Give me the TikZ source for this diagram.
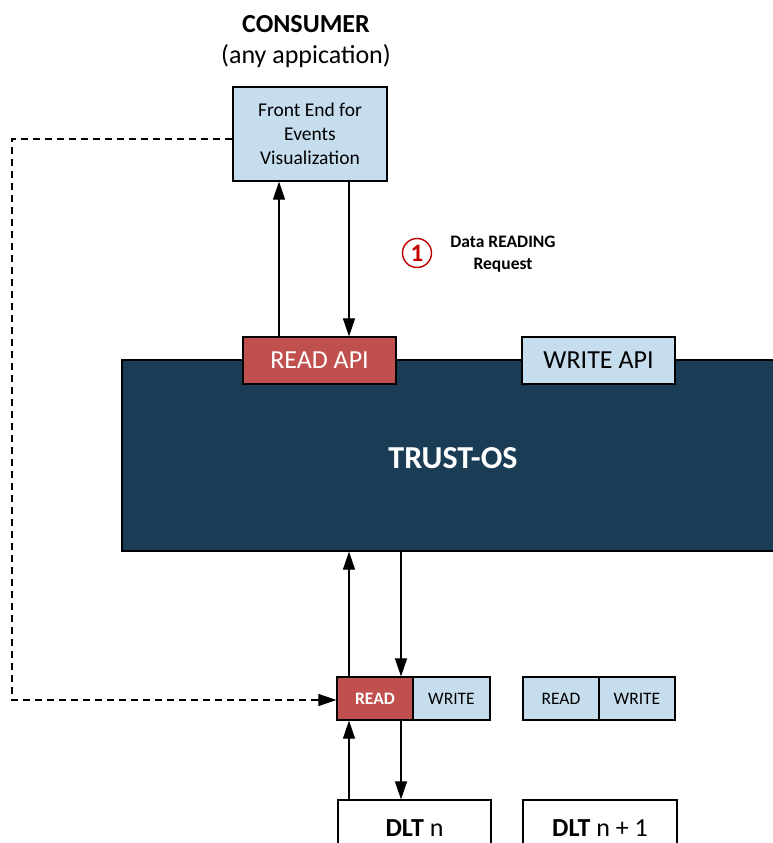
\documentclass[tikz,border=0pt]{standalone}
\usepackage{fontspec}
\setmainfont{Carlito}
\usetikzlibrary{arrows.meta}
\definecolor{lblue}{HTML}{C6DDED}
\definecolor{rred}{HTML}{C0504D}
\definecolor{navy}{HTML}{1B3C55}
\definecolor{dred}{HTML}{C00000}
\tikzset{
  box/.style={draw=black, line width=1.2pt, inner sep=0pt, align=center},
  lbox/.style={box, fill=lblue, text=black},
  rbox/.style={box, fill=rred, text=white},
  arr/.style={line width=1.1pt, -{Triangle[length=18pt,width=12pt]}},
  dashline/.style={line width=1.1pt, dash pattern=on 7pt off 5pt}
}
\begin{document}
\begin{tikzpicture}[x=1pt,y=-1pt]
\useasboundingbox (0,0) rectangle (773,843);
% consumer title
\node[font=\fontsize{26}{30}\selectfont\bfseries] (ttl) at (306,24) {CONSUMER};
\node[font=\fontsize{26}{30}\selectfont] (sub) at (306,56) {(any appication)};
\node[lbox, minimum width=154pt, minimum height=94pt, font=\fontsize{19.5}{24}\selectfont] (fe) at (310,134)
  {Front End for\\Events\\Visualization};
% step 1
\node[circle, draw=dred, line width=1.4pt, minimum size=29pt, inner sep=0pt, text=dred,
  font=\fontsize{25}{26}\selectfont\bfseries] (c1) at (417,253) {1};
\node[align=center, font=\fontsize{17.5}{22}\selectfont\bfseries] (lbl) at (503,254) {Data READING\\Request};
% trust-os
\node[box, fill=navy, minimum width=653pt, minimum height=191pt] (tos) at (448.5,455.5) {};
\node[text=white, font=\fontsize{32}{36}\selectfont\bfseries] (tost) at (453,458) {TRUST-OS};
\node[rbox, minimum width=153pt, minimum height=47pt, font=\fontsize{26}{30}\selectfont] (rapi) at (319.5,360.5) {READ API};
\node[lbox, minimum width=153pt, minimum height=47pt, font=\fontsize{26}{30}\selectfont] (wapi) at (598.5,360.5) {WRITE API};
% read/write
\node[rbox, minimum width=76pt, minimum height=43pt, font=\fontsize{17.5}{20}\selectfont\bfseries] (rd) at (375,698.5) {READ};
\node[lbox, minimum width=77pt, minimum height=43pt, font=\fontsize{17.5}{20}\selectfont] (wr) at (451.5,698.5) {WRITE};
\node[lbox, minimum width=76pt, minimum height=43pt, font=\fontsize{17.5}{20}\selectfont] (rd2) at (561,698.5) {READ};
\node[lbox, minimum width=76pt, minimum height=43pt, font=\fontsize{17.5}{20}\selectfont] (wr2) at (637,698.5) {WRITE};
% DLT
\node[box, fill=white, minimum width=153pt, minimum height=56pt] (dlt1) at (414.5,828) {};
\node[font=\fontsize{26}{30}\selectfont] (dlt1t) at (414.5,828) {\textbf{DLT} n};
\node[box, fill=white, minimum width=154pt, minimum height=56pt] (dlt2) at (600,828) {};
\node[font=\fontsize{26}{30}\selectfont] (dlt2t) at (600,828) {\textbf{DLT} n + 1};
% arrows top
\draw[arr] (rapi.north -| 279,0) -- (fe.south -| 279,0);
\draw[arr] (fe.south -| 349,0) -- (rapi.north -| 349,0);
% arrows middle
\draw[arr] (rd.north -| 349,0) -- (tos.south -| 349,0);
\draw[arr] (tos.south -| 401,0) -- (rd.north -| 401,0);
% arrows bottom
\draw[arr] (dlt1.north -| 349,0) -- (rd.south -| 349,0);
\draw[arr] (rd.south -| 401,0) -- (dlt1.north -| 401,0);
% dashed
\coordinate (c1a) at (12,139);
\coordinate (c2a) at (12,700);
\draw[dashline] (fe.west |- 0,139) -- (c1a) -- (c2a) -- ([xshift=-16pt,yshift=-1.5pt]rd.west);
\draw[arr] ([xshift=-18pt,yshift=-1.5pt]rd.west) -- ([yshift=-1.5pt]rd.west);
\end{tikzpicture}
\end{document}
